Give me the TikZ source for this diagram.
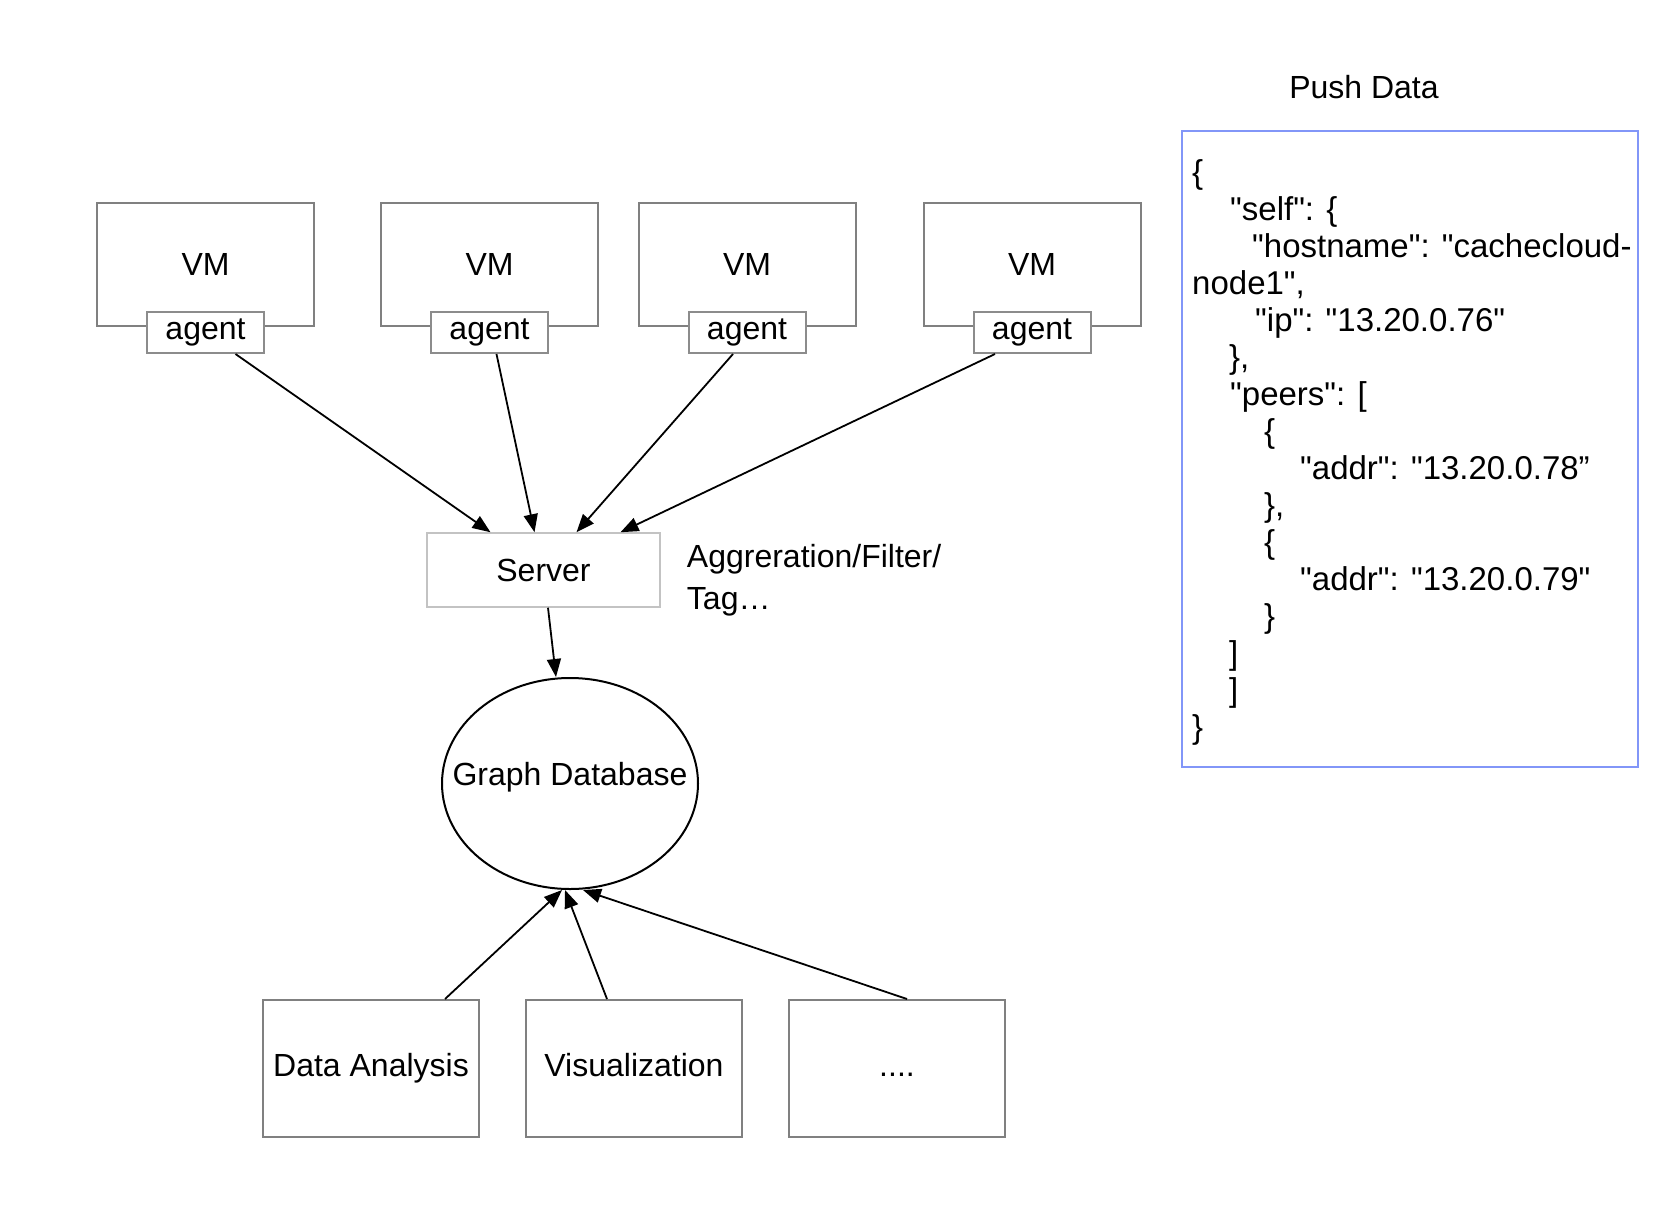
\documentclass[tikz,border=0pt]{standalone}
\usepackage{fontspec}
\setmainfont{Liberation Sans}[Ligatures=TeXOff]
\usetikzlibrary{arrows.meta,shapes.geometric,positioning}
\definecolor{boxgray}{RGB}{128,128,128}
\definecolor{agentgray}{RGB}{140,140,140}
\definecolor{servergray}{RGB}{195,195,195}
\definecolor{jsonblue}{RGB}{130,150,248}
\tikzset{
  vmbox/.style={draw=boxgray, line width=2pt, minimum width=217pt, minimum height=123pt, inner sep=0pt},
  agentbox/.style={draw=agentgray, line width=2pt, fill=white, minimum width=117pt, minimum height=41pt, inner sep=0pt},
  serverbox/.style={draw=servergray, line width=1.5pt, minimum width=233pt, minimum height=74pt, inner sep=0pt},
  dbnode/.style={draw, ellipse, line width=2pt, minimum width=256pt, minimum height=211pt, inner sep=0pt},
  appbox/.style={draw=boxgray, line width=2pt, minimum width=216pt, minimum height=137pt, inner sep=0pt, text height=23pt, text depth=7pt},
  jsonbox/.style={draw=jsonblue, line width=2pt, minimum width=456pt, minimum height=636pt, inner sep=0pt},
  note/.style={inner sep=0pt, align=left},
  jsonline/.style={inner sep=0pt, anchor=base west, font=\fontsize{33}{37}\selectfont},
  arrow/.style={->, line width=1.8pt}
}
\begin{document}
\begin{tikzpicture}[x=1pt, y=-1pt, >={Triangle[length=18pt,width=14pt]}, font=\fontsize{32}{42}\selectfont]
  \useasboundingbox (0,0) rectangle (1666,1216);
  % virtual machines with their agents
  \foreach \n/\x in {1/205.5, 2/489.5, 3/747, 4/1032}{
    \node[vmbox] (vm\n) at (\x,264.5) {VM};
    \node[agentbox] (ag\n) at ([yshift=-5.5pt]vm\n.south) {agent};
  }
  \node[serverbox] (server) at (543.5,570) {Server};
  \node[note, anchor=west] (tags) at ([xshift=26pt,yshift=-10pt]server.east) {Aggreration/Filter/\\Tag…};
  \foreach \n/\a/\b in {1/30/-53, 2/7/-9, 3/-14/33, 4/-37/77}
    \draw[arrow] ([xshift=\a pt]ag\n.south) -- ([xshift=\b pt]server.north);
  \node[dbnode, label={[yshift=6pt]center:Graph Database}] (db) at (570,783.5) {};
  \draw[arrow] ([xshift=4.5pt]server.south) -- ([xshift=-14pt]db.north);
  % consumers
  \node[appbox] (da) at (371,1068.5) {Data Analysis};
  \node[appbox] (vis) at (634,1068.5) {Visualization};
  \node[appbox] (more) at (897,1068.5) {....};
  \draw[arrow] ([xshift=74pt]da.north) -- ([xshift=-8pt]db.south);
  \draw[arrow] ([xshift=-27pt]vis.north) -- ([xshift=-5pt]db.south);
  \draw[arrow] ([xshift=10pt]more.north) -- ([xshift=13pt]db.south);
  % pushed data
  \node[note] (push) at (1364,87) {Push Data};
  \node[jsonbox] (json) at (1410,449) {};
  \foreach \ind/\txt [count=\i from 0] in {
      0/{\{}, 38/{"self": \{}, 60/{"hostname": "cachecloud-}, 0/{node1",},
      63/{"ip": "13.20.0.76"}, 37/{\},}, 38/{"peers": [}, 72/{\{},
      108/{"addr": "13.20.0.78”}, 72/{\},}, 72/{\{}, 108/{"addr": "13.20.0.79"},
      72/{\}}, 37/{]}, 37/{]}, 0/{\}}}
    \node[jsonline] (jl\i) at (1192+\ind, 183+37*\i) {\txt};
\end{tikzpicture}
\end{document}
